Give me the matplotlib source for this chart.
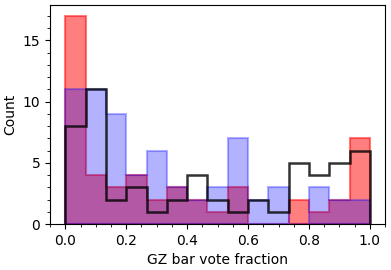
import matplotlib
import matplotlib.pyplot as plt
import numpy as np

matplotlib.use("Agg")

# 15 equal bins over [0, 1]
bin_edges = np.linspace(0, 1, 16)

# counts per bin
red_counts = [17, 4, 3, 4, 2, 3, 2, 1, 3, 0, 0, 2, 1, 2, 7]
blue_counts = [11, 11, 9, 4, 6, 3, 2, 3, 7, 2, 3, 0, 3, 2, 2]
black_counts = [8, 11, 2, 3, 1, 2, 4, 2, 1, 2, 1, 5, 4, 5, 6]

centers = 0.5 * (bin_edges[:-1] + bin_edges[1:])

fig = plt.figure(figsize=(3.91, 2.70), dpi=100)
ax = fig.add_axes([0.128, 0.170, 0.857, 0.810])

ax.hist(centers, bins=bin_edges, weights=red_counts, histtype="stepfilled",
        color="red", alpha=0.5, edgecolor="red", linewidth=1.5)
ax.hist(centers, bins=bin_edges, weights=blue_counts, histtype="stepfilled",
        color="blue", alpha=0.3, edgecolor="blue", linewidth=1.5)
ax.hist(centers, bins=bin_edges, weights=black_counts, histtype="step",
        color="black", alpha=0.8, linewidth=1.8)

ax.set_xticks([0.0, 0.2, 0.4, 0.6, 0.8, 1.0])
ax.set_yticks([0, 5, 10, 15])
ax.minorticks_on()
ax.tick_params(labelsize=10)
ax.set_xlabel("GZ bar vote fraction", fontsize=10)
ax.set_ylabel("Count", fontsize=10)

fig.savefig("out.png", dpi=100)
